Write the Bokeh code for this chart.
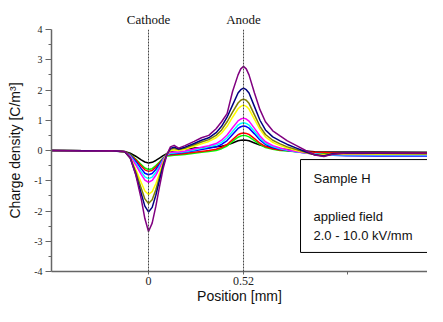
from bokeh.plotting import figure
from bokeh.models import Span, Label, FixedTicker, Range1d, LinearAxis
from bokeh.embed import file_html
from bokeh.resources import INLINE

# ---- data ----
position_mm = [-0.53, -0.35, -0.20, -0.13, -0.10, -0.07, -0.04, -0.02, 0.00, 0.02,
               0.04, 0.06, 0.08, 0.10, 0.12, 0.14, 0.165, 0.20, 0.25, 0.29,
               0.33, 0.37, 0.40, 0.43, 0.46, 0.49, 0.505, 0.52, 0.535, 0.55,
               0.58, 0.61, 0.64, 0.68, 0.72, 0.76, 0.81, 0.86, 0.91, 0.96,
               1.01, 1.08, 1.25, 1.62]

rho_black = [0.0, -0.01, -0.01, -0.03, -0.09, -0.19, -0.31, -0.38, -0.41, -0.39,
             -0.33, -0.25, -0.17, -0.10, -0.04, -0.01, 0.02, 0.05, 0.08, 0.09,
             0.10, 0.12, 0.14, 0.18, 0.25, 0.32, 0.34, 0.35, 0.34, 0.32,
             0.25, 0.18, 0.13, 0.08, 0.05, 0.03, 0.00, -0.02, -0.04, -0.05,
             -0.05, -0.05, -0.05, -0.06]
rho_green = [0.0, -0.01, -0.01, -0.04, -0.13, -0.28, -0.46, -0.58, -0.63, -0.60,
             -0.50, -0.38, -0.25, -0.18, -0.17, -0.16, -0.15, -0.13, -0.09, -0.06,
             -0.03, 0.00, 0.06, 0.15, 0.30, 0.44, 0.48, 0.50, 0.485, 0.45,
             0.33, 0.20, 0.10, 0.04, 0.00, -0.02, -0.04, -0.06, -0.08, -0.10,
             -0.11, -0.11, -0.12, -0.12]
rho_red = [0.0, -0.01, -0.01, -0.04, -0.14, -0.31, -0.51, -0.64, -0.69, -0.66,
           -0.55, -0.41, -0.26, -0.16, -0.14, -0.13, -0.12, -0.10, -0.06, -0.03,
           0.00, 0.04, 0.10, 0.20, 0.36, 0.52, 0.56, 0.58, 0.565, 0.53,
           0.39, 0.24, 0.13, 0.06, 0.02, 0.00, -0.02, -0.04, -0.06, -0.07,
           -0.08, -0.08, -0.08, -0.08]
rho_blue = [0.0, -0.01, -0.01, -0.05, -0.16, -0.36, -0.60, -0.75, -0.80, -0.76,
            -0.63, -0.46, -0.28, -0.15, -0.11, -0.10, -0.09, -0.06, -0.01, 0.03,
            0.07, 0.12, 0.20, 0.33, 0.53, 0.73, 0.785, 0.81, 0.79, 0.74,
            0.55, 0.35, 0.20, 0.10, 0.04, 0.00, -0.04, -0.08, -0.12, -0.15,
            -0.16, -0.17, -0.18, -0.18]
rho_cyan = [0.0, -0.01, -0.01, -0.05, -0.18, -0.42, -0.70, -0.87, -0.93, -0.88,
            -0.73, -0.52, -0.30, -0.14, -0.09, -0.08, -0.07, -0.04, 0.02, 0.07,
            0.12, 0.18, 0.27, 0.42, 0.63, 0.84, 0.895, 0.92, 0.895, 0.84,
            0.63, 0.41, 0.24, 0.13, 0.06, 0.01, -0.04, -0.08, -0.11, -0.14,
            -0.15, -0.15, -0.15, -0.15]
rho_magenta = [0.0, -0.01, -0.01, -0.05, -0.20, -0.47, -0.79, -0.98, -1.05, -0.99,
               -0.82, -0.58, -0.33, -0.13, -0.06, -0.05, -0.05, -0.02, 0.05, 0.11,
               0.16, 0.23, 0.34, 0.51, 0.75, 0.98, 1.04, 1.07, 1.04, 0.97,
               0.73, 0.48, 0.29, 0.16, 0.08, 0.02, -0.03, -0.08, -0.12, -0.14,
               -0.13, -0.13, -0.13, -0.13]
rho_yellow = [0.0, -0.01, -0.01, -0.05, -0.24, -0.62, -1.06, -1.34, -1.45, -1.36,
              -1.10, -0.76, -0.40, -0.12, 0.00, 0.02, 0.00, 0.04, 0.14, 0.22,
              0.30, 0.42, 0.58, 0.80, 1.10, 1.38, 1.46, 1.50, 1.46, 1.37,
              1.03, 0.70, 0.45, 0.27, 0.16, 0.08, 0.00, -0.07, -0.13, -0.15,
              -0.12, -0.11, -0.12, -0.12]
rho_olive = [0.0, -0.01, -0.01, -0.04, -0.24, -0.70, -1.25, -1.60, -1.75, -1.63,
             -1.30, -0.88, -0.45, -0.13, 0.04, 0.07, 0.03, 0.08, 0.19, 0.28,
             0.36, 0.50, 0.68, 0.95, 1.27, 1.57, 1.66, 1.70, 1.66, 1.56,
             1.18, 0.80, 0.53, 0.34, 0.22, 0.12, 0.03, -0.06, -0.14, -0.17,
             -0.11, -0.09, -0.10, -0.10]
rho_navy = [0.0, -0.01, -0.01, -0.04, -0.25, -0.78, -1.42, -1.84, -2.03, -1.88,
            -1.48, -0.98, -0.50, -0.14, 0.07, 0.11, 0.05, 0.11, 0.23, 0.34,
            0.42, 0.59, 0.80, 1.10, 1.50, 1.90, 2.01, 2.06, 2.01, 1.90,
            1.45, 1.00, 0.68, 0.45, 0.32, 0.20, 0.08, -0.04, -0.14, -0.18,
            -0.11, -0.08, -0.09, -0.10]
rho_purple = [0.0, -0.02, -0.01, -0.03, -0.25, -0.80, -1.60, -2.25, -2.68, -2.40,
              -1.85, -1.20, -0.60, -0.15, 0.12, 0.17, 0.08, 0.16, 0.30, 0.42,
              0.50, 0.72, 0.95, 1.22, 1.95, 2.50, 2.70, 2.78, 2.70, 2.50,
              1.90, 1.35, 0.95, 0.65, 0.48, 0.32, 0.16, 0.00, -0.15, -0.20,
              -0.12, -0.08, -0.08, -0.10]

series = [rho_black, rho_green, rho_red, rho_blue, rho_cyan,
          rho_magenta, rho_yellow, rho_olive, rho_navy, rho_purple]
colors = ["#000000", "#00ff00", "#ff0000", "#0000ff", "#00ffff",
          "#ff00ff", "#ffff00", "#808000", "#000080", "#800080"]

electrode_pos = [0.0, 0.52]
electrode_names = ["Cathode", "Anode"]
y_ticks = [-4, -3, -2, -1, 0, 1, 2, 3, 4]
y_minor = [-3.5, -2.5, -1.5, -0.5, 0.5, 1.5, 2.5, 3.5]
x_ticks = [0, 0.52, 1.09]
x_tick_labels = ["0", "0.52", ""]
box_lines = ["Sample H", "applied field", "2.0  -  10.0 kV/mm"]

# ---- figure ----
p = figure(width=427, height=306, output_backend="svg", toolbar_location=None,
           x_range=Range1d(-0.531, 1.527), y_range=Range1d(-4, 4),
           min_border_left=51, min_border_right=0, min_border_top=29,
           min_border_bottom=35)
p.outline_line_color = None
p.grid.visible = False
p.background_fill_color = "white"
p.border_fill_color = "white"

for ys, c in zip(series, colors):
    p.line(position_mm, ys, line_color=c, line_width=1.5, line_join="round")

for xp in electrode_pos:
    p.add_layout(Span(location=xp, dimension="height", line_color="#444444",
                      line_width=1, line_dash="2 1"))

# info box
p.quad(left=[0.832], right=[2.0], top=[-0.30], bottom=[-3.37],
       fill_color="white", line_color="black", line_width=1)
box_y = [-0.93, -2.18, -2.81]
for t, yy in zip(box_lines, box_y):
    p.add_layout(Label(x=0.903, y=yy, text=t, text_align="left",
                       text_baseline="middle", text_font="Liberation Sans",
                       text_font_size="13px", text_color="#111111"))

# y axis
ya = p.left[0]
ya.ticker = FixedTicker(ticks=y_ticks, minor_ticks=y_minor)
ya.major_label_overrides = {v: str(v) for v in y_ticks}
ya.major_label_text_font = "Liberation Serif"
ya.major_label_text_font_size = "10px"
ya.major_label_text_color = "#222222"
ya.major_tick_out = 6
ya.major_tick_in = 0
ya.minor_tick_out = 3
ya.minor_tick_in = 0
ya.major_label_standoff = 3
ya.axis_line_color = "#666666"
ya.axis_line_width = 1.5
ya.major_tick_line_color = "#666666"
ya.minor_tick_line_color = "#666666"
ya.axis_label = "Charge density [C/m\u00b3]"
ya.axis_label_standoff = 8
ya.axis_label_text_font = "Liberation Sans"
ya.axis_label_text_font_style = "normal"
ya.axis_label_text_font_size = "14px"
ya.axis_label_text_color = "#111111"

# x axis (below)
xa = p.below[0]
xa.ticker = FixedTicker(ticks=x_ticks, minor_ticks=[])
xa.major_label_overrides = dict(zip(x_ticks, x_tick_labels))
xa.major_label_text_font = "Liberation Serif"
xa.major_label_text_font_size = "12px"
xa.major_label_text_color = "#222222"
xa.major_tick_out = 3
xa.major_tick_in = 0
xa.major_label_standoff = 2
xa.axis_line_color = "#666666"
xa.axis_line_width = 1.5
xa.major_tick_line_color = "#666666"
xa.axis_label = "Position [mm]"
xa.axis_label_standoff = 0
xa.axis_label_text_font = "Liberation Sans"
xa.axis_label_text_font_style = "normal"
xa.axis_label_text_font_size = "14px"
xa.axis_label_text_color = "#111111"

# electrode names as an axis above
top_axis = LinearAxis(ticker=FixedTicker(ticks=electrode_pos, minor_ticks=[]),
                      major_label_overrides=dict(zip(electrode_pos, electrode_names)))
top_axis.axis_line_color = None
top_axis.major_tick_line_color = None
top_axis.major_tick_out = 0
top_axis.major_tick_in = 0
top_axis.major_label_standoff = 3
top_axis.major_label_text_font = "Liberation Serif"
top_axis.major_label_text_font_size = "13px"
top_axis.major_label_text_color = "#111111"
p.add_layout(top_axis, "above")

open("out.html", "w").write(file_html(p, INLINE))
